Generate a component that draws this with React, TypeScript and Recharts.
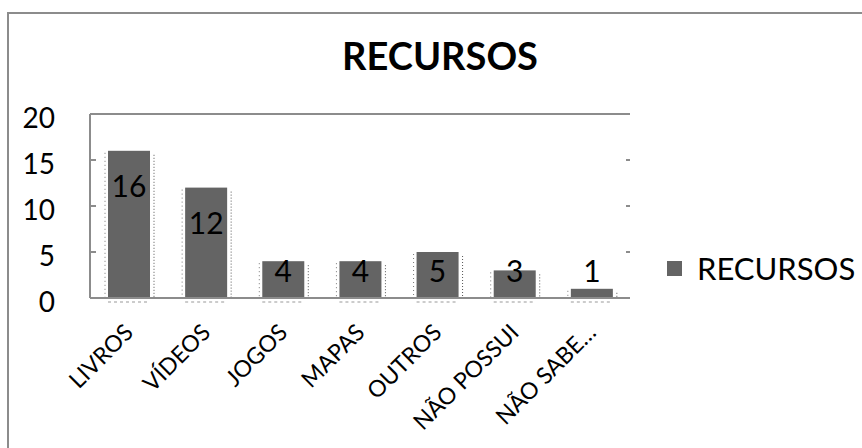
import React from 'react';
import { BarChart, Bar, XAxis, YAxis, ReferenceLine, LabelList, Legend } from 'recharts';

const categories = ['LIVROS', 'VÍDEOS', 'JOGOS', 'MAPAS', 'OUTROS', 'NÃO POSSUI', 'NÃO SABE…'];
const values = [16, 12, 4, 4, 5, 3, 1];
const yTicks = [0, 5, 10, 15, 20];
const seriesName = 'RECURSOS';
const title = 'RECURSOS';

const data = categories.map((c, i) => ({ name: c, value: values[i] }));

const FONT = 'Lato, "Open Sans", sans-serif';
const GRAY = '#8c8c8c';
const BAR = '#646464';
const W = 862;
const H = 448;
const MARGIN = { top: 114, right: 232, left: 0, bottom: 0 };
const PLOT_RIGHT = W - MARGIN.right;

const BarShape = (props: any) => {
  const { x, y, width, height } = props;
  if (!height || height <= 0) return null;
  const bottom = y + height;
  return (
    <g>
      <line x1={x - 3} x2={x - 3} y1={y + 2} y2={bottom} stroke="#777" strokeWidth={1} strokeDasharray="1 3" />
      <line x1={x + width + 4} x2={x + width + 4} y1={y + 4} y2={bottom} stroke="#555" strokeWidth={1} strokeDasharray="1 2" />
      <rect x={x} y={y} width={width} height={height} fill={BAR} />
      <line x1={x} x2={x + width} y1={bottom + 4} y2={bottom + 4} stroke="#999" strokeWidth={1} strokeDasharray="3 3" />
    </g>
  );
};

const BarLabel = (props: any) => {
  const { x, y, width, height, value } = props;
  const cy = Math.min(y + 34, y + height - 28);
  return (
    <text x={x + width / 2} y={cy} textAnchor="middle" dominantBaseline="central" fontSize={30} fontFamily={FONT} fill="#000">
      {value}
    </text>
  );
};

const LeftTick = (props: any) => {
  const { x, y, payload } = props;
  const inner = payload.value !== 0 && payload.value !== 20;
  return (
    <g>
      <line x1={x} x2={x + 6} y1={y} y2={y} stroke={GRAY} strokeWidth={2} />
      {inner && <line x1={PLOT_RIGHT - 4} x2={PLOT_RIGHT} y1={y} y2={y} stroke={GRAY} strokeWidth={2} />}
      <text x={x - 35} y={y + 3} textAnchor="end" dominantBaseline="central" fontSize={28} fontFamily={FONT} fill="#000">
        {payload.value}
      </text>
    </g>
  );
};

const XTick = (props: any) => {
  const { x, y, payload } = props;
  const tx = x + 6;
  const ty = y + 28;
  return (
    <text x={tx} y={ty} transform={`rotate(-45, ${tx}, ${ty})`} textAnchor="end" fontSize={23} fontFamily={FONT} fill="#000">
      {payload.value}
    </text>
  );
};

const LegendBox = () => (
  <div style={{ display: 'flex', alignItems: 'center', fontFamily: FONT }}>
    <span style={{ width: 15, height: 15, background: BAR, display: 'inline-block', marginRight: 15 }} />
    <span style={{ fontSize: 31, color: '#000', lineHeight: 1 }}>{seriesName}</span>
  </div>
);

export default function App() {
  return (
    <div style={{ position: 'fixed', left: 0, top: 0, width: W, height: H, overflow: 'hidden', background: '#fff' }}>
      <div style={{ position: 'absolute', left: 7, top: 12, width: 900, height: 500, border: `2px solid ${GRAY}` }} />
      <div
        style={{
          position: 'absolute', left: 0, top: 36, width: 880, textAlign: 'center',
          fontFamily: FONT, fontWeight: 700, fontSize: 38, lineHeight: 1, color: '#000',
        }}
      >
        {title}
      </div>
      <div style={{ position: 'absolute', left: 0, top: 0 }}>
        <BarChart width={W} height={H} data={data} margin={MARGIN}>
          <XAxis
            dataKey="name"
            interval={0}
            height={150}
            axisLine={{ stroke: GRAY, strokeWidth: 2 }}
            tickLine={false}
            tick={<XTick />}
          />
          <YAxis
            width={90}
            domain={[0, 20]}
            ticks={yTicks}
            axisLine={{ stroke: GRAY, strokeWidth: 2 }}
            tickLine={false}
            tickSize={0}
            tickMargin={0}
            tick={<LeftTick />}
          />
          <ReferenceLine y={20} stroke={GRAY} strokeWidth={2} />
          <Legend
            layout="horizontal"
            align="center"
            verticalAlign="middle"
            content={<LegendBox />}
            wrapperStyle={{ position: 'absolute', left: 667, top: 253, width: 190 }}
          />
          <Bar dataKey="value" name={seriesName} barSize={42} shape={<BarShape />} isAnimationActive={false}>
            <LabelList dataKey="value" content={<BarLabel />} />
          </Bar>
        </BarChart>
      </div>
    </div>
  );
}
